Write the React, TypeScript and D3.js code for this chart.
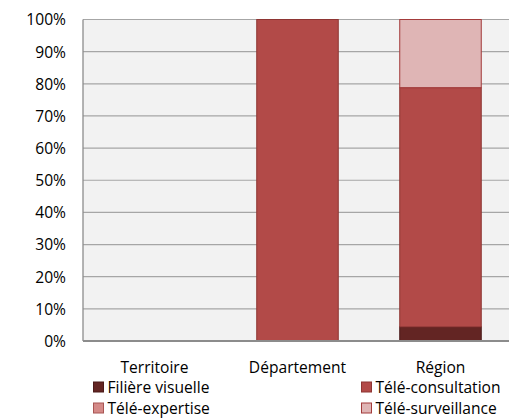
import React from "react";
import * as d3 from "d3";

const categories = ["Territoire", "Département", "Région"];
const seriesNames = ["Filière visuelle", "Télé-consultation", "Télé-expertise", "Télé-surveillance"];
const filiereVisuelle = [0, 0, 4.4];
const teleConsultation = [0, 100, 74.4];
const teleExpertise = [0, 0, 0];
const teleSurveillance = [0, 0, 21.2];
const yTicks = [0, 10, 20, 30, 40, 50, 60, 70, 80, 90, 100];

const colors = ["#632523", "#B24A48", "#D48A88", "#DFB5B5"];
const strokes = ["#4a1a19", "#8E3533", "#A85553", "#A33B3B"];

export default function App() {
  const W = 509, H = 418;
  const left = 83, top = 19.5, bottom = 341, right = 512;
  const x = d3.scaleBand().domain(categories).range([left, right]).paddingInner(0.43).paddingOuter(0.215);
  const y = d3.scaleLinear().domain([0, 100]).range([bottom, top]);
  const values = [filiereVisuelle, teleConsultation, teleExpertise, teleSurveillance];
  const table = categories.map((c, i) => {
    const o: any = { cat: c };
    seriesNames.forEach((s, k) => (o[s] = values[k][i]));
    return o;
  });
  const stacked = d3.stack().keys(seriesNames)(table);
  const font = "'Open Sans', 'Noto Sans', sans-serif";
  const fs = 15.6;
  const legend = [
    { x: 93.5, y: 387, i: 0 },
    { x: 361.5, y: 387, i: 1 },
    { x: 93.5, y: 408, i: 2 },
    { x: 361.5, y: 408, i: 3 },
  ];
  return (
    <svg width={W} height={H} style={{ position: "absolute", left: 0, top: 0, background: "#fff" }} fontFamily={font}>
      <rect x={left} y={top} width={right - left} height={bottom - top} fill="#F2F2F2" />
      {yTicks.map((t) => (
        <line key={t} x1={left} x2={right} y1={y(t)} y2={y(t)} stroke="#A6A6A6" strokeWidth={1.2} />
      ))}
      <line x1={left} x2={left} y1={top} y2={bottom} stroke="#8C8C8C" strokeWidth={1.3} />
      {stacked.map((layer, k) =>
        layer.map((d, i) =>
          d[1] - d[0] > 0 ? (
            <rect
              key={k + "-" + i}
              x={x(categories[i])!}
              width={x.bandwidth()}
              y={y(d[1])}
              height={y(d[0]) - y(d[1])}
              fill={colors[k]}
              stroke={strokes[k]}
              strokeWidth={1}
            />
          ) : null
        )
      )}
      <line x1={left} x2={right} y1={bottom} y2={bottom} stroke="#8C8C8C" strokeWidth={2} />
      {yTicks.map((t) => (
        <text key={t} x={66} y={y(t)} dy="0.38em" textAnchor="end" fontSize={fs} fill="#000">
          {t}%
        </text>
      ))}
      {categories.map((c) => (
        <text key={c} x={x(c)! + x.bandwidth() / 2} y={373} textAnchor="middle" fontSize={fs} fill="#000">
          {c}
        </text>
      ))}
      {legend.map((l) => (
        <g key={l.i}>
          <rect x={l.x} y={l.y - 5} width={10} height={10} fill={colors[l.i]} stroke={strokes[l.i]} strokeWidth={1} />
          <text x={l.x + 14} y={l.y} dy="0.38em" fontSize={fs} fill="#000">
            {seriesNames[l.i]}
          </text>
        </g>
      ))}
    </svg>
  );
}
